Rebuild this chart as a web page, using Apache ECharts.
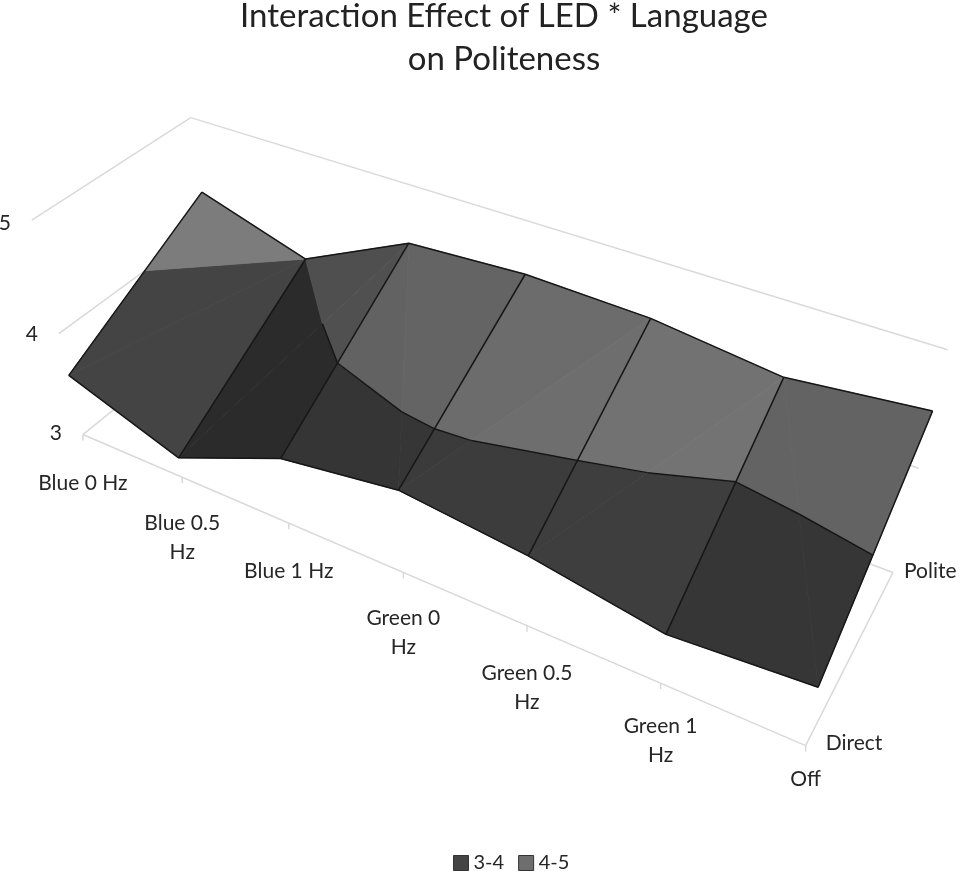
<!DOCTYPE html>
<html>
<head>
<meta charset="utf-8">
<style>html,body{margin:0;background:#fff}#chart{width:959px;height:871px}</style>
<script src="https://cdn.jsdelivr.net/npm/echarts@6/dist/echarts.min.js"></script>
</head>
<body>
<div id="chart"></div>
<script>
const categories = ['Blue 0 Hz', 'Blue 0.5\nHz', 'Blue 1 Hz', 'Green 0\nHz', 'Green 0.5\nHz', 'Green 1\nHz', 'Off']
const languages = ['Direct', 'Polite']
const zTicks = [3, 4, 5]
const bands = ['3-4', '4-5']
const direct = [3.6, 3.2, 3.64, 3.8, 3.68, 3.48, 3.57]
const polite = [4.32, 4.0, 4.48, 4.54, 4.51, 4.38, 4.5]

const FONT = 'Lato, "Open Sans", sans-serif'
const zMin = zTicks[0]
const zMax = zTicks[zTicks.length - 1]
const nCell = categories.length - 1

// which way each cell of the surface is split into two triangles
const splitRising = [true, true, false, true, true, false]

// where the corners of the 3d box land on the page: [u, v, w, x, y]
const calib = [
  [0, 0, 0, 83, 433], [1 / 6, 0, 0, 182, 477], [2 / 6, 0, 0, 290, 525], [3 / 6, 0, 0, 403, 573],
  [4 / 6, 0, 0, 527, 627], [5 / 6, 0, 0, 660, 686], [1, 0, 0, 805, 743],
  [0, 0, 0.5, 59, 332], [0, 0, 1, 32, 220], [0, 1, 1, 190, 119],
  [1, 1, 1, 948, 350], [1, 1, 0.5, 919, 467], [1, 1, 0, 893, 572]
]

function solveCamera() {
  const n = 11
  const A = []
  for (let i = 0; i < n; i++) A.push(new Array(n + 1).fill(0))
  function add(row, rhs) {
    for (let i = 0; i < n; i++) {
      for (let j = 0; j < n; j++) A[i][j] += row[i] * row[j]
      A[i][n] += row[i] * rhs
    }
  }
  calib.forEach(([u, v, w, x, y]) => {
    add([u, v, w, 1, 0, 0, 0, 0, -x * u, -x * v, -x * w], x)
    add([0, 0, 0, 0, u, v, w, 1, -y * u, -y * v, -y * w], y)
  })
  for (let c = 0; c < n; c++) {
    let best = c
    for (let r = c + 1; r < n; r++) if (Math.abs(A[r][c]) > Math.abs(A[best][c])) best = r
    const tmp = A[c]; A[c] = A[best]; A[best] = tmp
    for (let r = 0; r < n; r++) {
      if (r === c) continue
      const f = A[r][c] / A[c][c]
      for (let k = c; k <= n; k++) A[r][k] -= f * A[c][k]
    }
  }
  return A.map((r, i) => r[n] / r[i])
}
const cam = solveCamera()

function project(u, v, w) {
  const d = cam[8] * u + cam[9] * v + cam[10] * w + 1
  return [
    (cam[0] * u + cam[1] * v + cam[2] * w + cam[3]) / d,
    (cam[4] * u + cam[5] * v + cam[6] * w + cam[7]) / d
  ]
}
function toPage(api, d) {
  return api.coord(project(d[0] / nCell, d[1], (d[2] - zMin) / (zMax - zMin)))
}

// the two flat triangles of a cell, each vertex is [category position, depth, value]
function triangles(i) {
  const fl = [i, 0, direct[i]]
  const fr = [i + 1, 0, direct[i + 1]]
  const bl = [i, 1, polite[i]]
  const br = [i + 1, 1, polite[i + 1]]
  if (splitRising[i]) {
    return [
      { pts: [fl, bl, br], slope: br[2] - bl[2], other: fr[2] - fl[2] },
      { pts: [fl, fr, br], slope: fr[2] - fl[2], other: br[2] - bl[2] }
    ]
  }
  return [
    { pts: [fl, fr, bl], slope: fr[2] - fl[2], other: br[2] - bl[2] },
    { pts: [bl, br, fr], slope: br[2] - bl[2], other: fr[2] - fl[2] }
  ]
}

// cut a polygon at a height, keep one side
function clip(pts, level, keepBelow) {
  const out = []
  for (let k = 0; k < pts.length; k++) {
    const a = pts[k]
    const b = pts[(k + 1) % pts.length]
    const ina = keepBelow ? a[2] <= level : a[2] >= level
    const inb = keepBelow ? b[2] <= level : b[2] >= level
    if (ina) out.push(a)
    if (ina !== inb) {
      const r = (level - a[2]) / (b[2] - a[2])
      out.push([a[0] + (b[0] - a[0]) * r, a[1] + (b[1] - a[1]) * r, level])
    }
  }
  return out
}

function renderBand(bandIndex, baseGray) {
  const lo = zTicks[bandIndex]
  const hi = zTicks[bandIndex + 1]
  return function (params, api) {
    const children = []
    triangles(api.value(0)).forEach(tri => {
      const poly = clip(clip(tri.pts, lo, false), hi, true)
      if (poly.length < 3) return
      // facets only differ a little from each other in the picture
      const slope = 0.65 * tri.slope + 0.35 * tri.other
      const g = Math.round(baseGray * (1 - 0.53 * slope))
      const col = 'rgb(' + g + ',' + g + ',' + g + ')'
      children.push({
        type: 'polygon',
        shape: { points: poly.map(d => toPage(api, d)) },
        style: { fill: col, stroke: col, lineWidth: 0.8 }
      })
    })
    return { type: 'group', children }
  }
}

function seg(a, b, style) {
  return { type: 'line', shape: { x1: a[0], y1: a[1], x2: b[0], y2: b[1] }, style }
}

// black mesh: lines across the surface, its two long edges, and the band contour
function renderMesh(params, api) {
  const i = api.value(0)
  const style = { stroke: '#161616', lineWidth: 1.5, fill: null }
  const kids = []
  const P = (cat, v) => toPage(api, [cat, v, v ? polite[cat] : direct[cat]])
  kids.push(seg(P(i, 0), P(i, 1), style))
  kids.push(seg(P(i, 0), P(i + 1, 0), style))
  kids.push(seg(P(i, 1), P(i + 1, 1), style))
  if (i === nCell - 1) kids.push(seg(P(i + 1, 0), P(i + 1, 1), style))
  zTicks.slice(1, -1).forEach(level => {
    triangles(i).forEach(tri => {
      const cross = []
      for (let k = 0; k < 3; k++) {
        const a = tri.pts[k], b = tri.pts[(k + 1) % 3]
        if ((a[2] - level) * (b[2] - level) < 0) {
          const r = (level - a[2]) / (b[2] - a[2])
          cross.push(toPage(api, [a[0] + (b[0] - a[0]) * r, a[1] + (b[1] - a[1]) * r, level]))
        }
      }
      if (cross.length === 2) kids.push(seg(cross[0], cross[1], style))
    })
  })
  return { type: 'group', children: kids }
}

// light box lines behind the surface
function renderFrame(params, api) {
  const style = { stroke: '#d9d9d9', lineWidth: 1.5, fill: null }
  const kids = []
  const P = (u, v, w) => api.coord(project(u, v, w))
  kids.push(seg(P(0, 0, 0), P(1, 0, 0), style))
  kids.push(seg(P(1, 0, 0), P(1, 1, 0), style))
  kids.push(seg(P(1, 1, 0), P(0, 1, 0), style))
  kids.push(seg(P(0, 1, 0), P(0, 0, 0), style))
  zTicks.slice(1).forEach(z => {
    const w = (z - zMin) / (zMax - zMin)
    kids.push(seg(P(0, 0, w), P(0, 1, w), style))
    kids.push(seg(P(0, 1, w), P(1, 1, w), style))
  })
  categories.forEach((c, i) => {
    const a = P(i / nCell, 0, 0)
    kids.push(seg(a, [a[0], a[1] + 6], style))
  })
  return { type: 'group', children: kids }
}

const labelDy = [48, 45, 48, 45, 47, 43, 33]
const zLabelDy = [-1, 1, 3]
function renderLabels(params, api) {
  const kids = []
  const text = (str, pt, align, vAlign) => ({
    type: 'text',
    style: {
      text: str, x: pt[0], y: pt[1], align, verticalAlign: vAlign,
      font: '21px ' + FONT, lineHeight: 29, fill: '#262626'
    }
  })
  categories.forEach((c, i) => {
    const a = api.coord(project(i / nCell, 0, 0))
    kids.push(text(c, [a[0], a[1] + labelDy[i] - 14], 'center', 'top'))
  })
  zTicks.forEach((z, k) => {
    const a = api.coord(project(0, 0, (z - zMin) / (zMax - zMin)))
    kids.push(text(String(z), [a[0] - 27, a[1] + zLabelDy[k]], 'center', 'middle'))
  })
  languages.forEach((l, j) => {
    const a = api.coord(project(1, j, 0))
    kids.push(text(l, [a[0] + (j ? 11 : 20), a[1] - (j ? 1 : 2)], 'left', 'middle'))
  })
  return { type: 'group', children: kids }
}

const cells = []
for (let i = 0; i < nCell; i++) cells.push([i, 0])

const chart = echarts.init(document.getElementById('chart'), null, { renderer: 'canvas' })
chart.setOption({
  animation: false,
  title: {
    text: 'Interaction Effect of LED * Language\non Politeness',
    left: 499,
    top: -10,
    textAlign: 'center',
    textStyle: { fontFamily: FONT, fontSize: 33, fontWeight: 'normal', color: '#222', lineHeight: 43 }
  },
  legend: {
    data: bands,
    left: 448,
    top: 848,
    itemWidth: 15,
    itemHeight: 15,
    itemGap: 14,
    icon: 'rect',
    itemStyle: { borderColor: '#333', borderWidth: 1 },
    textStyle: { fontFamily: FONT, fontSize: 20, color: '#262626' }
  },
  grid: { left: 0, right: 0, top: 0, bottom: 0 },
  xAxis: { type: 'value', min: 0, max: 959, show: false },
  yAxis: { type: 'value', min: 0, max: 871, inverse: true, show: false },
  series: [
    { type: 'custom', name: 'frame', z: 1, silent: true, clip: false, data: [[0, 0]], renderItem: renderFrame },
    {
      type: 'custom', name: bands[0], z: 2, silent: true, clip: false, data: cells,
      itemStyle: { color: '#444444' }, renderItem: renderBand(0, 57)
    },
    {
      type: 'custom', name: bands[1], z: 2, silent: true, clip: false, data: cells,
      itemStyle: { color: '#6e6e6e' }, renderItem: renderBand(1, 105)
    },
    { type: 'custom', name: 'mesh', z: 3, silent: true, clip: false, data: cells, renderItem: renderMesh },
    { type: 'custom', name: 'labels', z: 4, silent: true, clip: false, data: [[0, 0]], renderItem: renderLabels }
  ]
})
</script>
</body>
</html>
